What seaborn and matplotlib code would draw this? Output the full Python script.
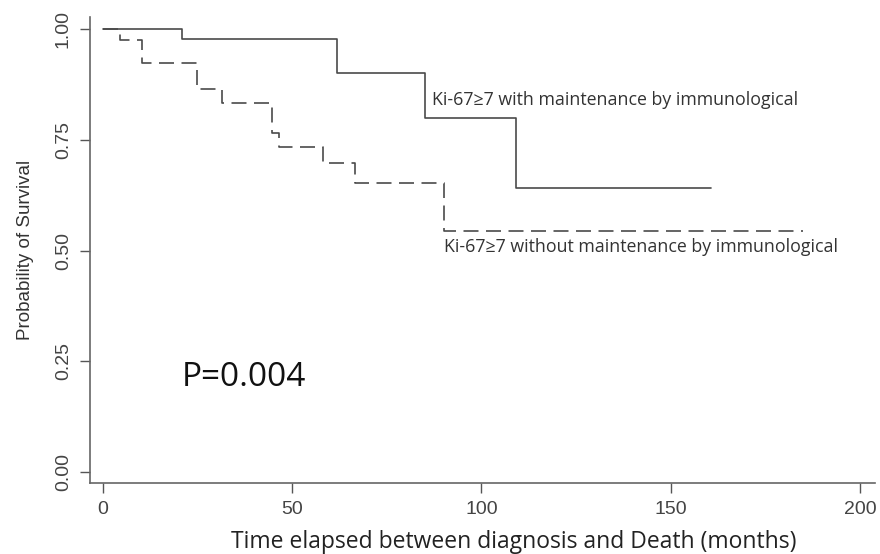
import matplotlib
matplotlib.use("Agg")
import matplotlib.pyplot as plt
import seaborn as sns
import pandas as pd

# Kaplan-Meier step data
time_with = [0, 20.9, 61.9, 85.2, 109.2, 160.8]
surv_with = [1.0, 0.977, 0.901, 0.800, 0.641, 0.641]

time_without = [0, 4.4, 10.4, 25.0, 31.6, 44.7, 46.5, 58.2, 66.7, 90.2, 185.0]
surv_without = [1.0, 0.975, 0.923, 0.865, 0.833, 0.765, 0.734, 0.698, 0.652, 0.544, 0.544]

label_with = "Ki-67\u22657 with maintenance by immunological"
label_without = "Ki-67\u22657 without maintenance by immunological"
p_text = "P=0.004"

x_ticks = [0, 50, 100, 150, 200]
y_ticks = [0.0, 0.25, 0.5, 0.75, 1.0]
y_ticklabels = ["0.00", "0.25", "0.50", "0.75", "1.00"]

df_with = pd.DataFrame({"time": time_with, "surv": surv_with})
df_without = pd.DataFrame({"time": time_without, "surv": surv_without})

sns.set_style("ticks")
plt.rcParams["font.family"] = ["Liberation Sans", "DejaVu Sans"]

W, H = 880, 554
fig = plt.figure(figsize=(8.8, 5.54), dpi=100)
ax = fig.add_axes([90 / W, 0.128, 0.892, 0.841])

col = "#4a4a4a"
sns.lineplot(data=df_with, x="time", y="surv", ax=ax, drawstyle="steps-post",
             color=col, linewidth=1.2)
sns.lineplot(data=df_without, x="time", y="surv", ax=ax, drawstyle="steps-post",
             color=col, linewidth=1.2, dashes=False)
ax.lines[-1].set_dashes((9, 4.5))

ax.set_xlim(-3.4, 204)
ax.set_ylim(-0.025, 1.027)
ax.set_xticks(x_ticks)
ax.set_yticks(y_ticks)
ax.set_yticklabels(y_ticklabels, rotation=90, va="center")
ax.tick_params(axis="both", colors="#555555", labelcolor="#444444", labelsize=14,
               length=7, width=1.0, direction="out")
ax.tick_params(axis="y", pad=6)
ax.tick_params(axis="x", pad=6)
for s in ["top", "right"]:
    ax.spines[s].set_visible(False)
for s in ["left", "bottom"]:
    ax.spines[s].set_color("#666666")
    ax.spines[s].set_linewidth(1.2)

ax.set_xlabel("")
ax.set_ylabel("")
fig.text(514 / W, (H - 548) / H, "Time elapsed between diagnosis and Death (months)",
         family=["Open Sans", "DejaVu Sans"], fontsize=16.5, color="#222222",
         ha="center", va="baseline")
fig.text(25 / W, (H - 250) / H, "Probability of Survival", fontsize=13.5,
         color="#333333", rotation=90, ha="center", va="center")

ax.text(87.0, 0.840, label_with, family=["Open Sans", "DejaVu Sans"], fontsize=12.8,
        color="#333333", va="center", ha="left")
ax.text(90.2, 0.508, label_without, family=["Open Sans", "DejaVu Sans"], fontsize=12.8,
        color="#333333", va="center", ha="left")
ax.text(20.9, 0.2145, p_text, family=["Open Sans", "DejaVu Sans"], fontsize=24,
        color="#111111", va="center", ha="left")

fig.savefig("out.png", dpi=100)
